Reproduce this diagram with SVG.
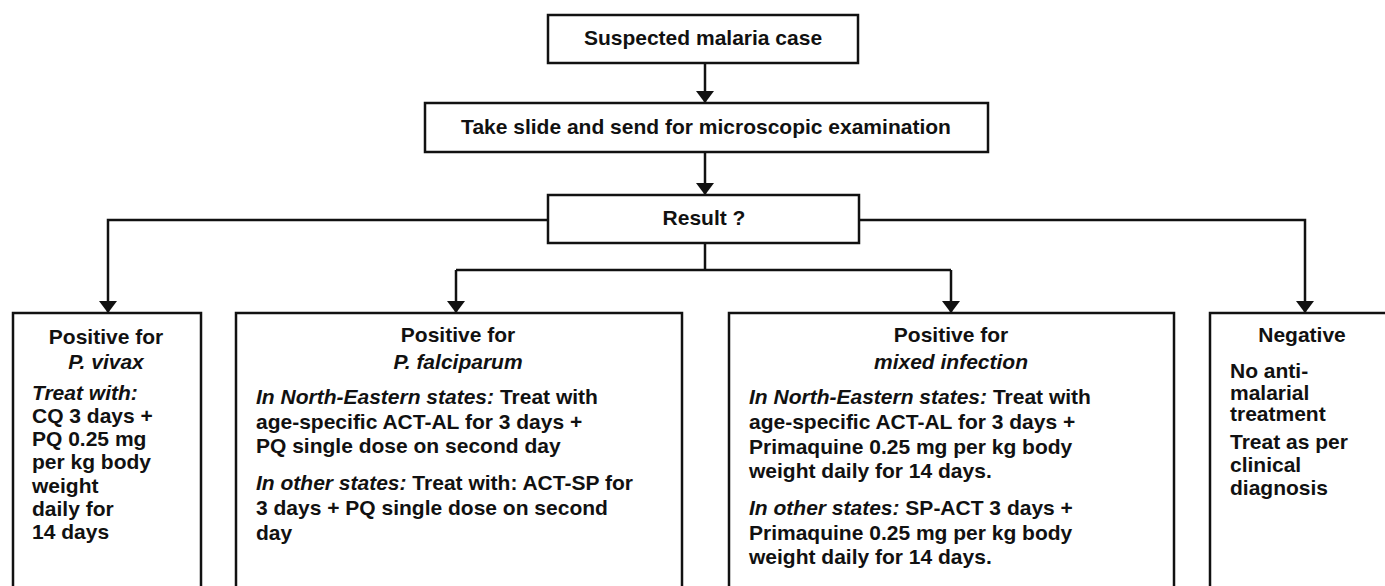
<svg xmlns="http://www.w3.org/2000/svg" width="1385" height="586" viewBox="0 0 1385 586">
  <defs>
    <marker id="arrow" viewBox="0 0 12 18" refX="12" refY="9" markerWidth="12" markerHeight="18" markerUnits="userSpaceOnUse" orient="auto">
      <path d="M0,0 L12,9 L0,18 Z" fill="#111"/>
    </marker>
    <style>
      .box { fill: #fff; stroke: #111; stroke-width: 2.5; }
      .link { fill: none; stroke: #111; stroke-width: 2.5; }
      text { font-family: "Liberation Sans", Arial, sans-serif; font-size: 21px; font-weight: bold; fill: #111; }
      .c { text-anchor: middle; }
      .i { font-style: italic; }
    </style>
  </defs>
  <rect width="1385" height="586" fill="#fff"/>

  <!-- connectors -->
  <g id="connectors">
    <path class="link" d="M705,63 V103" marker-end="url(#arrow)"/>
    <path class="link" d="M705,152 V195" marker-end="url(#arrow)"/>
    <path class="link" d="M548,220 H108 V313" marker-end="url(#arrow)"/>
    <path class="link" d="M859,220 H1305 V313" marker-end="url(#arrow)"/>
    <path class="link" d="M705,243 V270"/>
    <path class="link" d="M456,270 H951"/>
    <path class="link" d="M456,270 V313" marker-end="url(#arrow)"/>
    <path class="link" d="M951,270 V313" marker-end="url(#arrow)"/>
  </g>

  <g id="suspected">
    <rect class="box" x="548" y="15" width="310" height="48"/>
    <text class="c" x="703" y="45">Suspected malaria case</text>
  </g>

  <g id="slide">
    <rect class="box" x="425" y="103" width="563" height="49"/>
    <text class="c" x="706" y="134">Take slide and send for microscopic examination</text>
  </g>

  <g id="result">
    <rect class="box" x="548" y="195" width="311" height="48"/>
    <text class="c" x="704" y="225">Result ?</text>
  </g>

  <g id="vivax">
    <rect class="box" x="13" y="313" width="188" height="290"/>
    <text class="c" x="106" y="344">Positive for</text>
    <text class="c i" x="106" y="369">P. vivax</text>
    <text x="32" y="400" class="i">Treat with:</text>
    <text x="32" y="423">CQ 3 days +</text>
    <text x="32" y="446">PQ 0.25 mg</text>
    <text x="32" y="469">per kg body</text>
    <text x="32" y="493">weight</text>
    <text x="32" y="516">daily for</text>
    <text x="32" y="539">14 days</text>
  </g>

  <g id="falciparum">
    <rect class="box" x="236" y="313" width="446" height="290"/>
    <text class="c" x="458" y="342">Positive for</text>
    <text class="c i" x="458" y="369">P. falciparum</text>
    <text x="256" y="404"><tspan class="i">In North-Eastern states:</tspan> Treat with</text>
    <text x="256" y="429">age-specific ACT-AL for 3 days +</text>
    <text x="256" y="453">PQ single dose on second day</text>
    <text x="256" y="490"><tspan class="i">In other states:</tspan> Treat with: ACT-SP for</text>
    <text x="256" y="515">3 days + PQ single dose on second</text>
    <text x="256" y="540">day</text>
  </g>

  <g id="mixed">
    <rect class="box" x="729" y="313" width="445" height="290"/>
    <text class="c" x="951" y="342">Positive for</text>
    <text class="c i" x="951" y="369">mixed infection</text>
    <text x="749" y="404"><tspan class="i">In North-Eastern states:</tspan> Treat with</text>
    <text x="749" y="429">age-specific ACT-AL for 3 days +</text>
    <text x="749" y="454">Primaquine 0.25 mg per kg body</text>
    <text x="749" y="478">weight daily for 14 days.</text>
    <text x="749" y="515"><tspan class="i">In other states:</tspan> SP-ACT 3 days +</text>
    <text x="749" y="540">Primaquine 0.25 mg per kg body</text>
    <text x="749" y="564">weight daily for 14 days.</text>
  </g>

  <g id="negative">
    <rect class="box" x="1210" y="313" width="200" height="290"/>
    <text class="c" x="1302" y="342">Negative</text>
    <text x="1230" y="378">No anti-</text>
    <text x="1230" y="400">malarial</text>
    <text x="1230" y="421">treatment</text>
    <text x="1230" y="449">Treat as per</text>
    <text x="1230" y="472">clinical</text>
    <text x="1230" y="495">diagnosis</text>
  </g>
</svg>
